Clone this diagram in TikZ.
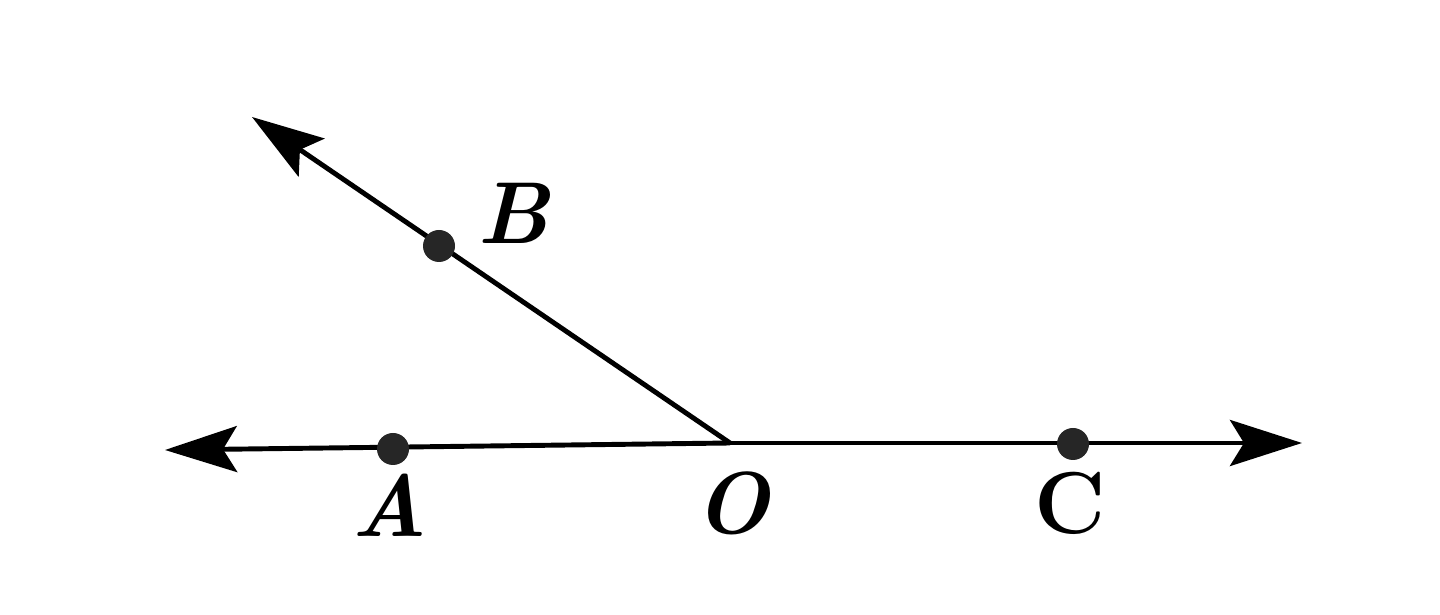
\documentclass[tikz,border=0pt]{standalone}
\usetikzlibrary{arrows.meta}
\begin{document}
\begin{tikzpicture}[
  ray/.style={line width=1.4pt,-{Stealth[length=0.72cm,width=0.46cm,inset=0.14cm]}},
  dotpt/.style={circle,fill=black!85,inner sep=0pt,minimum size=0.32cm},
  lbl/.style={font=\fontsize{25}{29}\selectfont\itshape\bfseries,inner sep=0pt},
  lblup/.style={font=\fontsize{25}{29}\selectfont\bfseries,inner sep=0pt}
]
\useasboundingbox (0,0) rectangle (14.4,6.15);
\coordinate (L) at (1.65,1.65);
\coordinate (R) at (13.02,1.72);
\coordinate (O) at (7.30,1.72);
\coordinate (Bt) at (2.52,4.98);
\draw[ray] (O) -- (L);
\draw[ray] (O) -- (R);
\draw[ray] (O) -- (Bt);
\node[dotpt] (A) at (3.93,1.66) {};
\node[dotpt] (C) at (10.73,1.71) {};
\node[dotpt] (B) at (4.39,3.69) {};
\node[lbl] (lA) at (3.90,1.10) {A};
\node[lbl] (lB) at (5.13,4.02) {B};
\node[lbl] (lO) at (7.32,1.12) {O};
\node[lblup] (lC) at (10.70,1.12) {C};
\end{tikzpicture}
\end{document}
